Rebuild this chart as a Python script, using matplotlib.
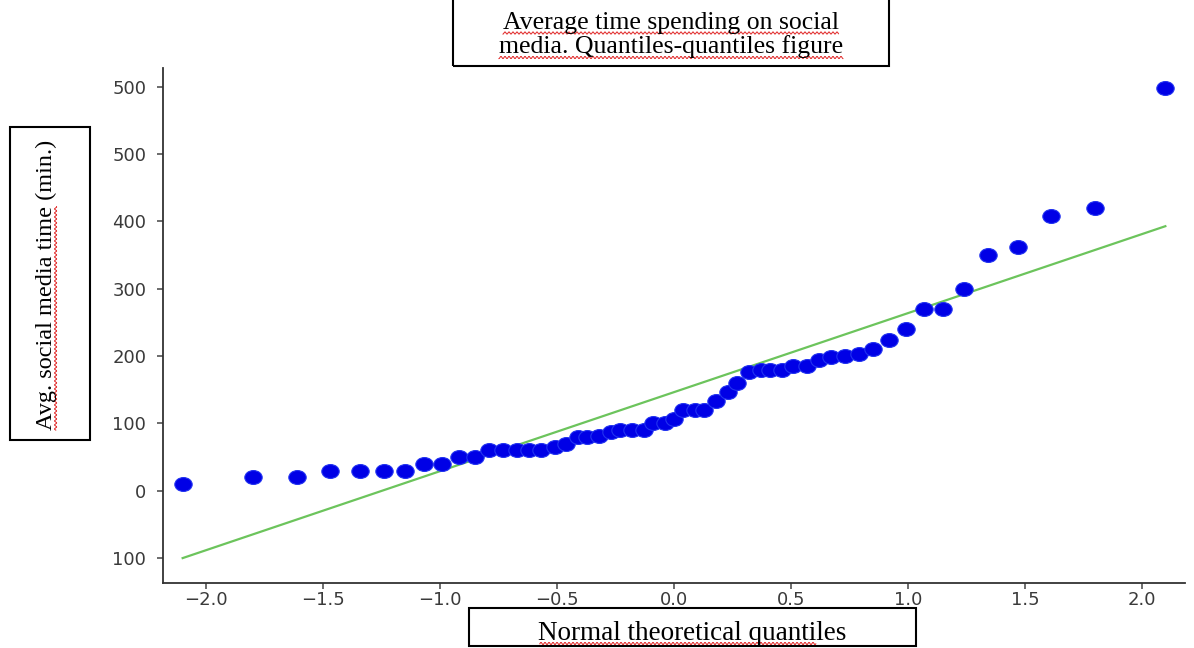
import numpy as np
import matplotlib
matplotlib.use("Agg")
import matplotlib.pyplot as plt
from matplotlib.path import Path
from matplotlib.patches import Rectangle
from matplotlib.lines import Line2D
from matplotlib.transforms import Affine2D, IdentityTransform

# theoretical normal quantiles (x) and sample values (y)
theo_q = [-2.10, -1.80, -1.61, -1.47, -1.34, -1.24, -1.15, -1.07, -0.99, -0.92,
          -0.85, -0.79, -0.73, -0.67, -0.62, -0.57, -0.51, -0.46, -0.41, -0.37,
          -0.32, -0.27, -0.23, -0.18, -0.13, -0.09, -0.04, 0.00, 0.04, 0.09,
          0.13, 0.18, 0.23, 0.27, 0.32, 0.37, 0.41, 0.46, 0.51, 0.57,
          0.62, 0.67, 0.73, 0.79, 0.85, 0.92, 0.99, 1.07, 1.15, 1.24,
          1.34, 1.47, 1.61, 1.80, 2.10]
sample_q = [10, 20, 20, 30, 30, 30, 30, 40, 40, 50,
            50, 60, 60, 60, 60, 60, 65, 70, 80, 80,
            82, 87, 90, 90, 90, 100, 100, 107, 120, 120,
            120, 133, 147, 160, 177, 180, 180, 180, 185, 185,
            194, 198, 200, 203, 210, 224, 241, 270, 270, 300,
            350, 362, 408, 420, 598]

# reference line end points
line_x = [-2.10, 2.10]
line_y = [-100, 393]

x_ticks = [-2.0, -1.5, -1.0, -0.5, 0.0, 0.5, 1.0, 1.5, 2.0]
y_ticks = [-100, 0, 100, 200, 300, 400, 500, 600]
y_tick_labels = ["100", "0", "100", "200", "300", "400", "500", "500"]

title_lines = ["Average time spending on social", "media. Quantiles-quantiles figure"]
y_label = "Avg. social media time (min.)"
x_label = "Normal theoretical quantiles"

W, H = 1194, 648
fig = plt.figure(figsize=(W / 100, H / 100), dpi=100)


def fx(px):
    return px / W


def fy(py):
    return 1 - py / H


ax = fig.add_axes([fx(163), fy(583), fx(1185) - fx(163), fy(68) - fy(583)])

ell = Path.unit_circle().transformed(Affine2D().scale(1.25, 1.0))
ax.plot(theo_q, sample_q, linestyle="none", marker=ell, markersize=12.5,
        color="#0000e6", markeredgecolor="#2233f0", markeredgewidth=0.8, zorder=3)
ax.plot(line_x, line_y, color="#6cc45c", lw=1.6, zorder=2)

ax.set_xlim(-2.184, 2.184)
ax.set_ylim(-137, 628)
ax.set_xticks(x_ticks)
ax.set_yticks(y_ticks)
ax.set_yticklabels(y_tick_labels)
for s in ["top", "right"]:
    ax.spines[s].set_visible(False)
for s in ["left", "bottom"]:
    ax.spines[s].set_color("#333333")
    ax.spines[s].set_linewidth(1.3)
ax.tick_params(axis="both", length=4, width=1.1, color="#444444",
               labelsize=13, labelcolor="#3a3a3a")
ax.tick_params(axis="y", pad=8)
ax.tick_params(axis="x", pad=2)

serif = ["Liberation Serif", "DejaVu Serif"]

# boxes around title and axis labels
for (l, t, r, b) in [(453, -10, 889, 66), (10, 127, 90, 440), (469, 608, 916, 646)]:
    fig.add_artist(Rectangle((fx(l), fy(b)), fx(r) - fx(l), fy(t) - fy(b),
                             transform=fig.transFigure, fill=False,
                             edgecolor="black", lw=1.5))

t1 = fig.text(fx(671), fy(23), title_lines[0], ha="center", va="center",
              family=serif, fontsize=18.5)
t2 = fig.text(fx(671), fy(47), title_lines[1], ha="center", va="center",
              family=serif, fontsize=18.5)
ty = fig.text(fx(46), fy(285), y_label, ha="center", va="center", rotation=90,
              family=serif, fontsize=17.5)
tx = fig.text(fx(692), fy(633), x_label, ha="center", va="center",
              family=serif, fontsize=19.5)

# red spell-check squiggles under the words
fig.canvas.draw()
rend = fig.canvas.get_renderer()


def squiggle(a0, a1, c, vertical=False):
    s = np.arange(a0, a1, 0.5)
    w = c + 1.1 * np.sin(s * np.pi / 2.0)
    xs, ys = (w, s) if vertical else (s, w)
    fig.add_artist(Line2D(xs, ys, transform=IdentityTransform(),
                          color="#e02020", lw=0.7))


for t in (t1, t2):
    bb = t.get_window_extent(rend)
    squiggle(bb.x0, bb.x1, bb.y0 + 1)
bb = tx.get_window_extent(rend)
squiggle(bb.x0 + 2, bb.x1 - 30, bb.y0 + 2)
bb = ty.get_window_extent(rend)
tmp = fig.text(0, 0, "Avg. social media time", family=serif, fontsize=17.5)
part = tmp.get_window_extent(rend).width
tmp.remove()
squiggle(bb.y0, bb.y0 + part, bb.x1 - 1, vertical=True)

fig.savefig("out.png", dpi=100)
